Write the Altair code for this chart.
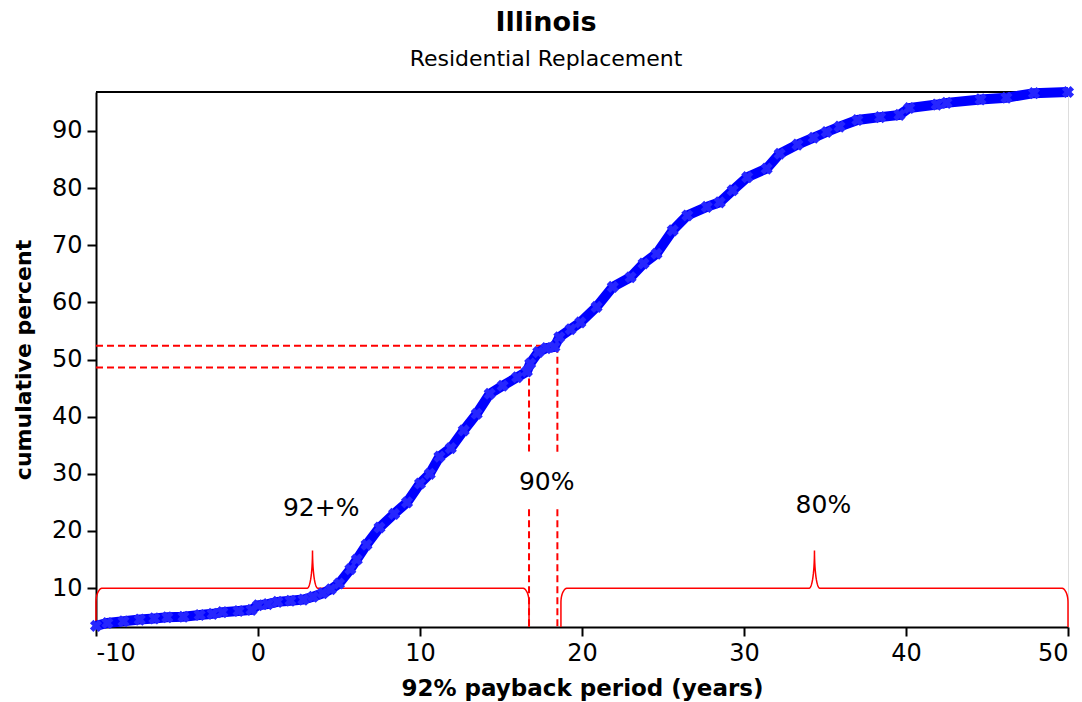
import math
import altair as alt
import pandas as pd

# Cumulative distribution of the 92% payback period
payback_years = [
    -10.0, -9.3, -8.3, -7.3, -6.4, -5.6, -4.6, -3.6, -2.8, -2.2, -1.2, -0.4,
    0.0, 0.6, 1.2, 2.0, 2.8, 3.4, 4.0, 4.5, 5.0, 5.7, 6.1, 6.7, 7.5, 8.4,
    9.2, 10.0, 10.6, 11.2, 11.9, 12.7, 13.5, 14.3, 15.1, 16.0, 16.6, 16.8,
    17.3, 17.8, 18.3, 18.6, 19.3, 19.9, 20.9, 21.9, 23.0, 23.8, 24.6, 25.6,
    26.5, 27.7, 28.5, 29.3, 30.2, 31.4, 32.2, 33.3, 34.3, 35.1, 35.9, 37.0,
    38.4, 39.6, 40.2, 41.9, 42.5, 44.6, 46.2, 47.9, 50.0,
]
cumulative_pct = [
    3.4, 3.9, 4.2, 4.5, 4.7, 4.9, 5.0, 5.3, 5.5, 5.8, 6.0, 6.2,
    7.0, 7.2, 7.6, 7.8, 8.0, 8.5, 9.1, 9.8, 10.8, 13.3, 15.0, 17.6, 20.6, 23.0,
    25.0, 28.3, 30.0, 33.0, 34.5, 37.6, 40.5, 44.0, 45.4, 46.9, 47.9, 49.3,
    51.3, 52.0, 52.2, 53.9, 55.3, 56.5, 59.2, 62.7, 64.4, 66.8, 68.5, 72.6,
    75.2, 76.7, 77.5, 79.6, 81.9, 83.4, 86.0, 87.6, 88.8, 89.8, 90.75, 91.9,
    92.4, 92.8, 94.0, 94.6, 94.9, 95.5, 95.8, 96.6, 96.8,
]

# Axis ranges
x_domain = [-10, 50]
y_domain = [3.2, 96.8]
x_ticks = [-10, 0, 10, 20, 30, 40, 50]
y_ticks = [10, 20, 30, 40, 50, 60, 70, 80, 90]

# Curly braces grouping the payback ranges
brace_start = [-10.0, 18.7]
brace_end = [16.73, 50.0]
brace_level = 10.0
brace_peak = 16.6

# The 90% band between the two dashed guides
band_x = [16.73, 18.48]
band_y = [48.6, 52.4]
gap_y = [23.8, 33.6]  # break in the vertical guides around the label

label_text = ["92+%", "90%", "80%"]
label_x = [3.9, 17.82, 34.9]
label_y = [24.0, 28.5, 24.5]

FONT = "DejaVu Sans"
RED = "#ff0000"
WIDTH, HEIGHT = 972, 535

curve = pd.DataFrame({"x": payback_years, "y": cumulative_pct})


def brace_points(x0, x1, base, level, peak, r_end=0.4, h_end=2.5, r_mid=0.32, n=14):
    """Outline of a horizontal curly brace standing on the x axis."""
    xm = (x0 + x1) / 2
    h_mid = peak - level
    pts = [(x0, base)]
    for i in range(n + 1):
        t = i / n * math.pi / 2
        pts.append((x0 + r_end - r_end * math.cos(t), level - h_end + h_end * math.sin(t)))
    for i in range(n + 1):
        t = i / n * math.pi / 2
        pts.append((xm - r_mid + r_mid * math.sin(t), peak - h_mid * math.cos(t)))
    for i in range(n, -1, -1):
        t = i / n * math.pi / 2
        pts.append((xm + r_mid - r_mid * math.sin(t), peak - h_mid * math.cos(t)))
    for i in range(n, -1, -1):
        t = i / n * math.pi / 2
        pts.append((x1 - r_end + r_end * math.cos(t), level - h_end + h_end * math.sin(t)))
    pts.append((x1, base))
    return pts


brace_rows = []
for b, (s, e) in enumerate(zip(brace_start, brace_end)):
    for k, (px, py) in enumerate(brace_points(s, e, y_domain[0], brace_level, brace_peak)):
        brace_rows.append({"brace": b, "order": k, "x": px, "y": py})
braces = pd.DataFrame(brace_rows)

guides = pd.DataFrame(
    [
        {"x": x_domain[0], "x2": band_x[1], "y": band_y[1], "y2": band_y[1]},
        {"x": x_domain[0], "x2": band_x[0], "y": band_y[0], "y2": band_y[0]},
        {"x": band_x[0], "x2": band_x[0], "y": band_y[0], "y2": gap_y[1]},
        {"x": band_x[0], "x2": band_x[0], "y": gap_y[0], "y2": y_domain[0]},
        {"x": band_x[1], "x2": band_x[1], "y": band_y[1], "y2": gap_y[1]},
        {"x": band_x[1], "x2": band_x[1], "y": gap_y[0], "y2": y_domain[0]},
    ]
)

labels = pd.DataFrame({"text": label_text, "x": label_x, "y": label_y})

x_scale = alt.Scale(domain=x_domain, nice=False, zero=False)
y_scale = alt.Scale(domain=y_domain, nice=False, zero=False)

axis_common = dict(
    grid=False,
    labelFontSize=24,
    labelFont=FONT,
    labelColor="black",
    labelExpr="'' + datum.value",
    titleFont=FONT,
    titleFontWeight="bold",
    titleColor="black",
    tickSize=9,
    tickWidth=2,
    tickColor="black",
    domainColor="black",
    domainWidth=2,
)

x_enc = alt.X(
    "x:Q",
    scale=x_scale,
    axis=alt.Axis(
        values=x_ticks,
        title="92% payback period (years)",
        titleFontSize=23,
        titlePadding=12,
        labelPadding=5,
        **axis_common,
    ),
)
y_enc = alt.Y(
    "y:Q",
    scale=y_scale,
    axis=alt.Axis(
        values=y_ticks,
        title="cumulative percent",
        titleFontSize=22,
        titlePadding=16,
        labelPadding=5,
        **axis_common,
    ),
)

curve_line = alt.Chart(curve).mark_line(color="#0000ff", strokeWidth=10).encode(x=x_enc, y=y_enc)
curve_marks = alt.Chart(curve).mark_point(
    shape="cross", angle=45, filled=True, color="#2626ff", size=150, opacity=1
).encode(x="x:Q", y="y:Q")

brace_lines = alt.Chart(braces).mark_line(color=RED, strokeWidth=1.5).encode(
    x="x:Q", y="y:Q", detail="brace:N", order="order:Q"
)

guide_rules = alt.Chart(guides).mark_rule(color=RED, strokeWidth=2, strokeDash=[7, 4]).encode(
    x="x:Q", x2="x2:Q", y="y:Q", y2="y2:Q"
)

label_marks = alt.Chart(labels).mark_text(
    font=FONT, fontSize=25, color="black", baseline="middle", align="center"
).encode(x="x:Q", y="y:Q", text="text:N")

# upper frame edge of the plot area
top_edge = alt.Chart(curve).mark_rule(color="black", strokeWidth=2).encode(
    x=alt.value(0), x2=alt.value(WIDTH), y=alt.value(0)
)

chart = (
    alt.layer(guide_rules, brace_lines, top_edge, curve_line, curve_marks, label_marks)
    .properties(
        width=WIDTH,
        height=HEIGHT,
        autosize=alt.AutoSizeParams(type="none"),
        padding={"left": 96, "top": 92, "right": 14, "bottom": 75},
        title=alt.TitleParams(
            text="Illinois",
            subtitle="Residential Replacement",
            font=FONT,
            fontSize=27,
            fontWeight="bold",
            color="black",
            subtitleFont=FONT,
            subtitleFontSize=22,
            subtitleColor="black",
            subtitlePadding=12,
            anchor="middle",
            dx=-36,
            offset=1,
        ),
    )
    .configure_view(stroke="black", strokeWidth=2)
    .configure(background="white")
)

chart.save("out.html", embed_options={"renderer": "svg", "actions": False})
